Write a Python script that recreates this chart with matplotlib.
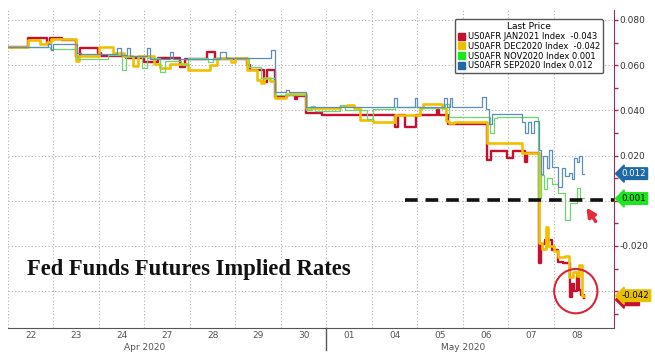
import numpy as np
import matplotlib
matplotlib.use('Agg')
import matplotlib.pyplot as plt
from matplotlib.patches import Patch, Ellipse
from matplotlib.transforms import blended_transform_factory

# trading days on the x axis (one unit per day)
day_labels = ['22', '23', '24', '27', '28', '29', '30', '01', '04', '05', '06', '07', '08']
month_labels = ['Apr 2020', 'May 2020']
month_pos = [3.0, 10.0]

# US0AFR JAN2021 (red)
jan_t = [0.00, 0.44, 0.85, 0.92, 1.19, 1.50, 1.58, 1.98, 2.05, 2.60, 3.00, 3.30, 3.78, 3.90,
         4.37, 4.55, 5.25, 5.32, 5.62, 5.70, 5.87, 6.13, 6.30, 6.36, 6.55, 6.90, 8.50, 8.57,
         8.73, 8.97, 9.42, 9.47, 9.67, 10.53, 10.62, 10.97, 11.10, 11.36, 11.41, 11.67, 11.72,
         11.80, 11.95, 12.10, 12.20, 12.35, 12.40, 12.44, 12.50, 12.55, 12.60, 12.66]
jan_v = [0.0680, 0.0722, 0.0698, 0.0722, 0.0711, 0.0638, 0.0674, 0.0654, 0.0640, 0.0630, 0.0614, 0.0630, 0.0592, 0.0627,
         0.0658, 0.0627, 0.0600, 0.0578, 0.0526, 0.0578, 0.0459, 0.0468, 0.0452, 0.0462, 0.0390, 0.0380, 0.0327, 0.0380,
         0.0327, 0.0380, 0.0400, 0.0380, 0.0338, 0.0180, 0.0222, 0.0190, 0.0222, 0.0172, 0.0211, -0.0275, -0.0190,
         -0.0173, -0.0220, -0.0270, -0.0275, -0.0426, -0.0370, -0.0400, -0.0330, -0.0395, -0.0417, -0.0430]

# US0AFR DEC2020 (yellow)
dec_t = [0.00, 0.44, 0.70, 0.85, 0.95, 1.50, 1.56, 2.00, 2.30, 2.55, 2.75, 2.85, 3.20, 3.34,
         3.56, 3.96, 4.44, 4.60, 4.90, 5.00, 5.25, 5.47, 5.55, 5.62, 5.76, 5.87, 6.10, 6.55,
         7.30, 7.45, 7.60, 7.74, 8.02, 8.50, 9.05, 9.12, 9.55, 9.62, 9.70, 9.80, 10.53, 11.30,
         11.67, 11.73, 11.82, 11.88, 12.00, 12.10, 12.25, 12.33, 12.42, 12.50, 12.55, 12.62, 12.66]
dec_v = [0.0680, 0.0710, 0.0695, 0.0702, 0.0716, 0.0620, 0.0640, 0.0680, 0.0655, 0.0640, 0.0595, 0.0640, 0.0605, 0.0588,
         0.0605, 0.0578, 0.0600, 0.0630, 0.0615, 0.0630, 0.0580, 0.0535, 0.0520, 0.0545, 0.0530, 0.0455, 0.0472, 0.0410,
         0.0418, 0.0425, 0.0410, 0.0356, 0.0350, 0.0380, 0.0410, 0.0426, 0.0410, 0.0355, 0.0345, 0.0350, 0.0256, 0.0211,
         -0.0187, -0.0215, -0.0116, -0.0200, -0.0222, -0.0250, -0.0245, -0.0337, -0.0315, -0.0335, -0.0284, -0.0420, -0.0420]

# US0AFR NOV2020 (green)
nov_t = [0.00, 0.92, 1.52, 2.20, 2.50, 2.60, 2.95, 3.05, 3.35, 3.45, 3.80, 3.95, 4.40, 4.50,
         5.30, 5.55, 5.87, 6.55, 6.65, 6.75, 7.30, 7.40, 7.90, 8.02, 8.50, 9.05, 9.60, 9.70,
         10.60, 10.68, 10.75, 11.65, 11.72, 11.78, 11.84, 11.95, 12.10, 12.25, 12.35, 12.50, 12.58, 12.66]
nov_v = [0.0680, 0.0671, 0.0627, 0.0645, 0.0578, 0.0640, 0.0587, 0.0630, 0.0570, 0.0620, 0.0600, 0.0632, 0.0615, 0.0632,
         0.0590, 0.0545, 0.0470, 0.0400, 0.0420, 0.0395, 0.0425, 0.0400, 0.0362, 0.0405, 0.0415, 0.0410, 0.0430, 0.0370,
         0.0300, 0.0365, 0.0371, 0.0010, 0.0114, 0.0050, 0.0100, 0.0075, 0.0035, -0.0085, -0.0010, 0.0057, 0.0010, 0.0010]

# US0AFR SEP2020 (blue)
sep_t = [0.00, 0.88, 0.95, 1.00, 1.52, 1.60, 2.40, 2.48, 2.62, 2.68, 3.05, 3.12, 3.56, 3.63,
         4.67, 4.80, 5.78, 5.87, 6.12, 6.17, 6.55, 8.48, 8.55, 8.95, 9.00, 9.58, 9.64, 9.72,
         9.76, 10.42, 10.50, 10.57, 10.64, 11.30, 11.36, 11.42, 11.50, 11.56, 11.68, 11.72, 11.77,
         11.84, 11.90, 11.95, 12.10, 12.17, 12.25, 12.33, 12.40, 12.45, 12.50, 12.55, 12.62, 12.66]
sep_v = [0.0680, 0.0695, 0.0667, 0.0694, 0.0655, 0.0648, 0.0676, 0.0645, 0.0676, 0.0640, 0.0676, 0.0625, 0.0658, 0.0625,
         0.0658, 0.0632, 0.0667, 0.0480, 0.0490, 0.0480, 0.0415, 0.0453, 0.0415, 0.0453, 0.0415, 0.0453, 0.0415, 0.0453,
         0.0415, 0.0460, 0.0405, 0.0340, 0.0385, 0.0350, 0.0300, 0.0350, 0.0300, 0.0355, 0.0225, 0.0120, 0.0200,
         0.0145, 0.0225, 0.0150, 0.0062, 0.0145, 0.0110, 0.0125, 0.0095, 0.0190, 0.0170, 0.0200, 0.0120, 0.0120]

names = ['US0AFR JAN2021 Index  -0.043', 'US0AFR DEC2020 Index  -0.042',
         'US0AFR NOV2020 Index 0.001', 'US0AFR SEP2020 Index 0.012']
last_vals = [-0.043, -0.042, 0.001, 0.012]
# the JAN tag is hidden behind the DEC one, only its lower edge shows
last_text = ['      ', '-0.042', '0.001', '0.012']

line_colors = ['#c8102e', '#f0c000', '#6ed66e', '#5b8fb9']
key_colors = ['#c8102e', '#e8c000', '#1ee61e', '#1f6aa5']
tag_text_colors = ['#000000', '#000000', '#000000', '#ffffff']

fig = plt.figure(figsize=(6.55, 3.57), dpi=100)
ax = fig.add_axes([8 / 655, 29 / 357, 606 / 655, 318 / 357])

series = [(jan_t, jan_v, 1.7), (dec_t, dec_v, 1.9), (nov_t, nov_v, 0.9), (sep_t, sep_v, 0.9)]
for (t, v, lw), c in zip(series, line_colors):
    ax.plot(t, v, drawstyle='steps-post', color=c, lw=lw, zorder=3)

ax.set_xlim(0, 13.32)
ax.set_ylim(-0.0563, 0.0844)

# x axis: day labels centred in each day, grid on the day boundaries
ax.set_xticks(np.arange(len(day_labels)) + 0.5)
ax.set_xticklabels(day_labels, fontsize=6.5, color='#555555')
ax.set_xticks(np.arange(0, 13), minor=True)
ax.tick_params(axis='x', which='both', length=0, pad=2)
ax.grid(axis='x', which='minor', linestyle=(0, (1, 2)), color='#b0b0b0', lw=0.8)

# y axis on the right
ax.yaxis.tick_right()
yt = np.arange(-0.04, 0.081, 0.02)
ax.set_yticks(yt)
ax.set_yticklabels(['' if abs(y) < 1e-9 or abs(y + 0.04) < 1e-9 else '%.3f' % y for y in yt],
                   fontsize=6.5, color='#333333')
ax.set_yticks(np.arange(-0.05, 0.08, 0.02), minor=True)
ax.tick_params(axis='y', which='both', colors='#9c2a5a', labelcolor='#333333', length=3, width=1, pad=1)
ax.grid(axis='y', which='major', linestyle=(0, (1, 2)), color='#b0b0b0', lw=0.8)

for s in ['left', 'top']:
    ax.spines[s].set_visible(False)
ax.spines['right'].set_color('#9c2a5a')
ax.spines['bottom'].set_color('#555555')

# month labels and separator
trans = blended_transform_factory(ax.transData, ax.transAxes)
for m, p in zip(month_labels, month_pos):
    ax.text(p, -0.061, m, transform=trans, ha='center', va='center', fontsize=6.5, color='#555555')
ax.plot([7, 7], [0, -0.07], transform=trans, color='#555555', lw=1, clip_on=False)

# last price tags on the right
ytrans = ax.get_yaxis_transform()
tag_y = [last_vals[0] - 0.0008, last_vals[1], last_vals[2], last_vals[3]]
for y, txt, fc, tc in zip(tag_y, last_text, key_colors, tag_text_colors):
    ax.annotate(txt, xy=(1, y), xycoords=ytrans, xytext=(5.5, 0), textcoords='offset points',
                ha='left', va='center', fontsize=6.2, color=tc,
                bbox=dict(boxstyle='larrow,pad=0.15', fc=fc, ec=fc), zorder=6, annotation_clip=False)

# annotations
ax.hlines(0.0004, 8.73, 13.32, colors='#111111', linestyles=(0, (3.5, 2.2)), lw=2.6, zorder=4)
ax.annotate('', xy=(12.68, -0.0020), xytext=(12.95, -0.0102),
            arrowprops=dict(arrowstyle='-|>', color='#e8283c', lw=2.4, mutation_scale=13), zorder=6)
ax.add_patch(Ellipse((12.48, -0.0400), 0.95, 0.0196, fill=False, ec='#d8243c', lw=1.5, zorder=6))

ax.text(0.42, -0.0306, 'Fed Funds Futures Implied Rates', fontfamily='Liberation Serif',
        fontweight='bold', fontsize=16.3, ha='left', va='center', color='#111111', zorder=5)

handles = [Patch(color=c) for c in key_colors]
leg = ax.legend(handles, names, title='Last Price', loc='upper right',
                bbox_to_anchor=(607 / 655, 342 / 357), bbox_transform=fig.transFigure,
                fontsize=6, title_fontsize=6.5, fancybox=True, edgecolor='#555555', framealpha=1,
                handlelength=0.9, handleheight=0.9, handletextpad=0.3, borderpad=0.35,
                labelspacing=0.1)
leg.set_zorder(7)

fig.savefig('out.png', dpi=100)
